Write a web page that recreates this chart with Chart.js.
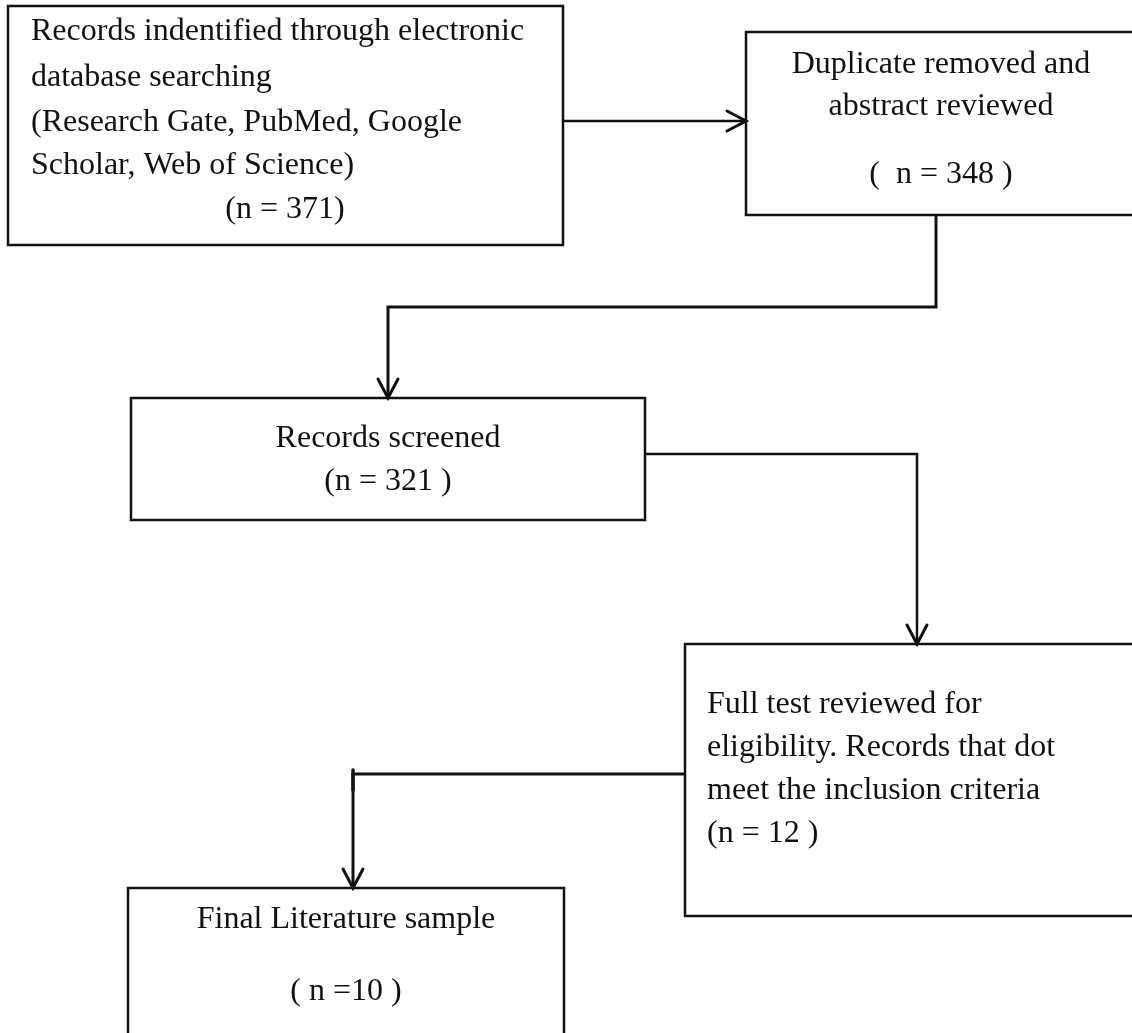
<!DOCTYPE html>
<html>
<head>
<meta charset="utf-8">
<script src="https://cdn.jsdelivr.net/npm/chart.js@4"></script>
<style>
  html, body { margin: 0; padding: 0; background: #fff; }
  #flow { display: block; }
</style>
</head>
<body>
<canvas id="flow" width="1132" height="1033"></canvas>
<script>
// boxes of the flow diagram (page units, y going down)
const boxLeft   = [8,   746,  131, 685,  128];
const boxTop    = [6,   32,   398, 644,  888];
const boxRight  = [563, 1140, 645, 1140, 564];
const boxBottom = [245, 215,  520, 916,  1045];

// text rows inside the boxes
const rowText = [
  "Records indentified through electronic",
  "database searching",
  "(Research Gate, PubMed, Google",
  "Scholar, Web of Science)",
  "(n = 371)",
  "Duplicate removed and",
  "abstract reviewed",
  "(  n = 348 )",
  "Records screened",
  "(n = 321 )",
  "Full test reviewed for",
  "eligibility. Records that dot",
  "meet the inclusion criteria",
  "(n = 12 )",
  "Final Literature sample",
  "( n =10 )"
];
const rowX     = [31, 31, 31, 31, 285, 941, 941, 941, 388, 388, 707, 707, 707, 707, 346, 346];
const rowY     = [40, 86, 131, 174, 218, 73, 115, 183, 447, 490, 713, 756, 799, 842, 928, 1000];
const rowAlign = ["left", "left", "left", "left", "center", "center", "center", "center",
                  "center", "center", "left", "left", "left", "left", "center", "center"];

// connectors, each ends in an arrow head at its last point
const linkX = [
  [563, 746],
  [936, 936, 388, 388],
  [645, 917, 917],
  [685, 353, 353]
];
const linkY = [
  [121, 121],
  [215, 307, 307, 398],
  [454, 454, 644],
  [774, 774, 888]
];
// little stub where the last connector turns down
const stubX = [353, 353];
const stubY = [770, 790];

const boxSets = boxLeft.map((l, i) => ({
  data: [
    {x: l, y: boxTop[i]}, {x: boxRight[i], y: boxTop[i]},
    {x: boxRight[i], y: boxBottom[i]}, {x: l, y: boxBottom[i]},
    {x: l, y: boxTop[i]}
  ],
  showLine: true,
  borderColor: "#111",
  borderWidth: 2.5,
  borderJoinStyle: "miter",
  borderCapStyle: "square",
  pointRadius: 0,
  tension: 0
}));

const linkWidths = [2.5, 3, 2.5, 3];
const linkSets = linkX.map((xs, i) => ({
  data: xs.map((x, j) => ({x: x, y: linkY[i][j]})),
  showLine: true,
  borderColor: "#111",
  borderWidth: linkWidths[i],
  borderJoinStyle: "miter",
  pointRadius: 0,
  tension: 0
}));

linkSets.push({
  data: stubX.map((x, j) => ({x: x, y: stubY[j]})),
  showLine: true,
  borderColor: "#111",
  borderWidth: 3.5,
  borderCapStyle: "round",
  pointRadius: 0
});

// arrow heads and text go on top, placed through the scales
const flowExtras = {
  id: "flowExtras",
  afterDatasetsDraw(chart) {
    const ctx = chart.ctx;
    const xs = chart.scales.x, ys = chart.scales.y;
    ctx.save();
    ctx.strokeStyle = "#111";
    ctx.lineWidth = 3;
    ctx.lineCap = "round";
    linkX.forEach((lx, i) => {
      const n = lx.length;
      const tx = xs.getPixelForValue(lx[n - 1]), ty = ys.getPixelForValue(linkY[i][n - 1]);
      const px = xs.getPixelForValue(lx[n - 2]), py = ys.getPixelForValue(linkY[i][n - 2]);
      const a = Math.atan2(ty - py, tx - px);
      const len = 19, half = 10;
      const bx = tx - len * Math.cos(a), by = ty - len * Math.sin(a);
      const nx = -Math.sin(a) * half, ny = Math.cos(a) * half;
      ctx.beginPath();
      ctx.moveTo(bx + nx, by + ny);
      ctx.lineTo(tx, ty);
      ctx.lineTo(bx - nx, by - ny);
      ctx.stroke();
    });
    ctx.fillStyle = "#111";
    ctx.font = "32px 'Liberation Serif', 'Times New Roman', serif";
    ctx.textBaseline = "alphabetic";
    rowText.forEach((t, i) => {
      ctx.textAlign = rowAlign[i];
      ctx.fillText(t, xs.getPixelForValue(rowX[i]), ys.getPixelForValue(rowY[i]));
    });
    ctx.restore();
  }
};

new Chart(document.getElementById("flow").getContext("2d"), {
  type: "scatter",
  data: { datasets: boxSets.concat(linkSets) },
  options: {
    responsive: false,
    animation: false,
    layout: { padding: 0 },
    plugins: { legend: { display: false }, tooltip: { enabled: false } },
    scales: {
      x: { type: "linear", min: 0, max: 1132, display: false },
      y: { type: "linear", min: 0, max: 1033, reverse: true, display: false }
    }
  },
  plugins: [flowExtras]
});
</script>
</body>
</html>
